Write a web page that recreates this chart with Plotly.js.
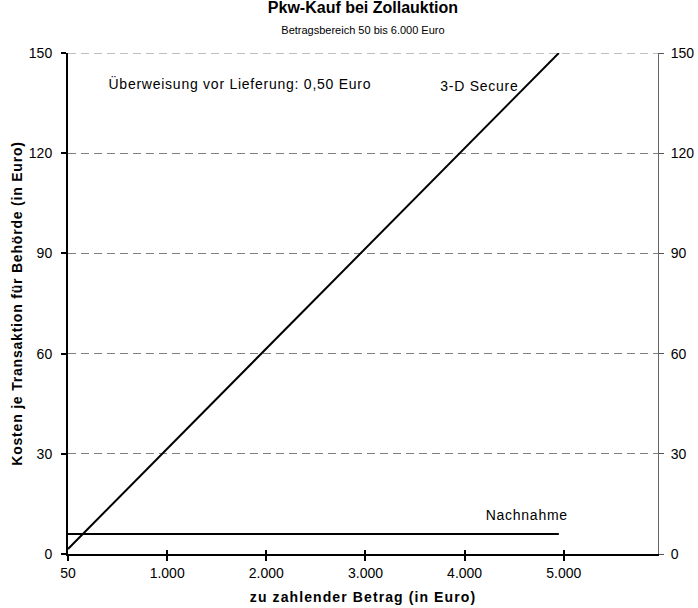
<!DOCTYPE html>
<html>
<head>
<meta charset="utf-8">
<script src="https://cdn.plot.ly/plotly-3.0.1.min.js"></script>
<style>
html,body{margin:0;padding:0;background:#fff;}
#chart text.xtitle{letter-spacing:1.1px;}
#chart text.ytitle{letter-spacing:0.8px;}
#chart .annotation-text{letter-spacing:0.75px;}
</style>
</head>
<body>
<div id="chart" style="width:698px;height:608px;"></div>
<script>
// Data
const secureX = [50, 500, 1000, 2000, 3000, 4000, 5000];
const secureY = [1.5, 15, 30, 60, 90, 120, 150];
const nachnahmeX = [50, 5000];
const nachnahmeY = [6, 6];
const xTickVals = [50, 1050, 2050, 3050, 4050, 5050];
const xTickText = ["50", "1.000", "2.000", "3.000", "4.000", "5.000"];
const yTickVals = [0, 30, 60, 90, 120, 150];

const FONT = "Liberation Sans, Arial, sans-serif";

const traces = [
  {x: secureX, y: secureY, type: "scatter", mode: "lines", name: "3-D Secure",
   line: {color: "#000", width: 2}, xaxis: "x", yaxis: "y", hoverinfo: "skip"},
  {x: nachnahmeX, y: nachnahmeY, type: "scatter", mode: "lines", name: "Nachnahme",
   line: {color: "#000", width: 2}, xaxis: "x2", yaxis: "y2", hoverinfo: "skip"}
];

const layout = {
  width: 698, height: 608,
  margin: {l: 68, r: 40, t: 53, b: 54},
  paper_bgcolor: "#fff", plot_bgcolor: "#fff",
  showlegend: false,
  font: {family: FONT, color: "#000", size: 14},
  title: {
    text: "<b>Pkw-Kauf bei Zollauktion</b><br><span style='font-size:11px;font-weight:normal'>Betragsbereich 50 bis 6.000 Euro</span>",
    font: {family: FONT, size: 16, color: "#000"},
    x: 0.52, xanchor: "center", y: 0.978, yanchor: "top"
  },
  xaxis: {
    range: [50, 6000], tickmode: "array", tickvals: xTickVals, ticktext: xTickText,
    ticks: "outside", ticklen: 5, tickwidth: 2, tickcolor: "#000",
    showline: true, linecolor: "#000", linewidth: 2,
    showgrid: false, zeroline: false,
    tickfont: {family: FONT, size: 14, color: "#000"},
    title: {text: "<b>zu zahlender Betrag (in Euro)</b>", font: {family: FONT, size: 14, color: "#000"}, standoff: 12}
  },
  xaxis2: {
    overlaying: "x", anchor: "y", range: [50, 6000], tickmode: "array", tickvals: xTickVals,
    ticks: "inside", ticklen: 4, tickwidth: 2, tickcolor: "#000",
    showticklabels: false, showline: false, showgrid: false, zeroline: false, side: "bottom"
  },
  yaxis: {
    range: [0, 150], tickmode: "array", tickvals: yTickVals,
    ticks: "outside", ticklen: 5, tickwidth: 2, tickcolor: "#000",
    showline: true, linecolor: "#000", linewidth: 2,
    showgrid: true, gridcolor: "#7f7f7f", gridwidth: 1, griddash: "8px,5px",
    zeroline: false,
    tickfont: {family: FONT, size: 14, color: "#000"},
    ticklabelstandoff: 6,
    title: {text: "<b>Kosten je Transaktion für Behörde (in Euro)</b>", font: {family: FONT, size: 14, color: "#000"}, standoff: 3}
  },
  yaxis2: {
    overlaying: "y", side: "right", anchor: "x2", range: [0, 150], tickmode: "array", tickvals: yTickVals,
    ticks: "outside", ticklen: 5, tickwidth: 1, tickcolor: "#555",
    showline: true, linecolor: "#666", linewidth: 1,
    showgrid: false, zeroline: false,
    tickfont: {family: FONT, size: 14, color: "#000"},
    ticklabelstandoff: 4
  },
  yaxis3: {
    overlaying: "y", side: "left", anchor: "x", range: [0, 150], tickmode: "array", tickvals: yTickVals,
    ticks: "inside", ticklen: 5, tickwidth: 2, tickcolor: "#000",
    showticklabels: false, showline: false, showgrid: false, zeroline: false
  },
  shapes: [
    {type: "line", xref: "paper", x0: 0, x1: 1, yref: "y", y0: 150, y1: 150,
     line: {color: "#7f7f7f", width: 1, dash: "8px,5px"}, layer: "below"}
  ],
  annotations: [
    {x: 570, y: 141, xref: "x", yref: "y", text: "Überweisung vor Lieferung: 0,50 Euro",
     showarrow: false, xanchor: "left", yanchor: "middle", font: {family: FONT, size: 14, color: "#000"}},
    {x: 4575, y: 140, xref: "x", yref: "y", text: "3-D Secure",
     showarrow: false, xanchor: "right", yanchor: "middle", font: {family: FONT, size: 14, color: "#000"}},
    {x: 4676, y: 11.7, xref: "x", yref: "y", text: "Nachnahme",
     showarrow: false, xanchor: "center", yanchor: "middle", font: {family: FONT, size: 14, color: "#000"}}
  ]
};

Plotly.newPlot("chart", traces, layout, {displayModeBar: false, staticPlot: true});
</script>
</body>
</html>
